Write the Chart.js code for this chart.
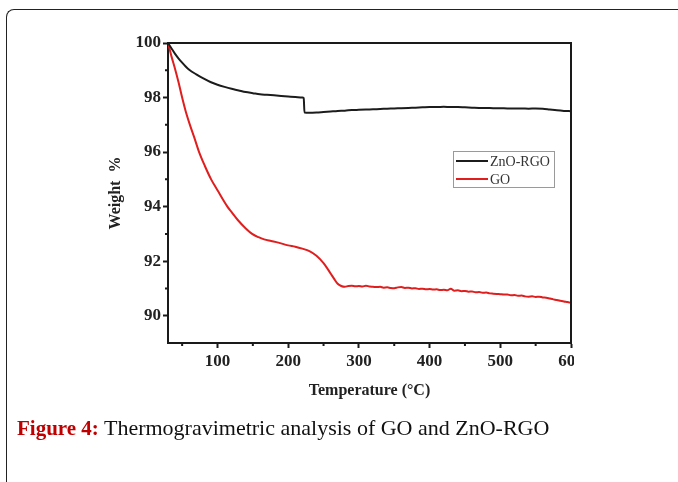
<!DOCTYPE html>
<html>
<head>
<meta charset="utf-8">
<script src="https://cdn.jsdelivr.net/npm/chart.js@4.4.0/dist/chart.umd.min.js"></script>
<style>
html, body { margin: 0; padding: 0; background: #fff; width: 678px; height: 482px; overflow: hidden; }
#frame { position: absolute; left: 6px; top: 9px; width: 700px; height: 500px; border-left: 1.5px solid #222; border-top: 1.5px solid #222; border-top-left-radius: 8px; }
#plot { position: absolute; left: 0; top: 0; width: 574px; height: 420px; overflow: hidden; }
#caption { position: absolute; left: 17px; top: 417px; font-family: "Liberation Serif", serif; font-size: 22px; line-height: 22px; color: #111; white-space: nowrap; }
#caption b { color: #c00000; font-size: 21px; }
</style>
</head>
<body>
<div id="frame"></div>
<div id="plot"><canvas id="tga" width="620" height="420"></canvas></div>
<div id="caption"><b>Figure 4:</b> Thermogravimetric analysis of GO and ZnO-RGO</div>
<script>
// ---- Data ----
const tempZno = [30, 35, 40, 45, 50, 55, 60, 70, 80, 90, 100, 110, 120, 130, 140, 150, 160, 170, 180, 190, 200, 210, 220, 222, 223,
	230, 240, 250, 260, 270, 280, 290, 300, 310, 320, 330, 340, 350, 360, 370, 380, 390, 400, 410, 420, 430, 440, 450,
	460, 470, 480, 490, 500, 510, 520, 530, 540, 550, 560, 570, 580, 590, 600];
const weightZno = [100.0, 99.8, 99.6, 99.43, 99.28, 99.14, 99.02, 98.85, 98.7, 98.57, 98.47, 98.39, 98.32, 98.26, 98.2, 98.16, 98.12, 98.1, 98.08, 98.06, 98.04, 98.02, 98.0, 97.98, 97.45,
	97.44, 97.45, 97.47, 97.49, 97.51, 97.52, 97.54, 97.55, 97.56, 97.57, 97.58, 97.59, 97.6, 97.61, 97.62, 97.63, 97.64, 97.65, 97.65, 97.66, 97.65, 97.65, 97.64,
	97.63, 97.62, 97.62, 97.61, 97.61, 97.6, 97.6, 97.6, 97.59, 97.6, 97.59, 97.56, 97.53, 97.51, 97.5];

const tempGo = [30, 35, 40, 45, 50, 55, 61, 67, 74, 82, 91, 100, 114, 120, 129, 140, 149, 158, 166, 176, 186, 200, 210, 220,
	230, 240, 250, 260, 265, 270, 275, 280, 285, 290, 295, 300, 305, 310, 315, 320, 325, 330, 335, 340, 345, 350, 355, 360,
	365, 370, 375, 380, 385, 390, 395, 400, 405, 410, 415, 420, 425, 430, 435, 440, 445, 450, 455, 460, 465, 470, 475, 480,
	485, 490, 495, 500, 505, 510, 515, 520, 525, 530, 535, 540, 545, 550, 555, 560, 565, 570, 575, 580, 585, 590, 595, 600];
const weightGo = [100.0, 99.5, 99.05, 98.55, 98.0, 97.5, 97.0, 96.55, 96.0, 95.5, 95.0, 94.6, 94.0, 93.8, 93.5, 93.2, 93.0, 92.88, 92.8, 92.74, 92.68, 92.58, 92.53, 92.46,
	92.37, 92.2, 91.93, 91.55, 91.35, 91.17, 91.09, 91.06, 91.09, 91.1, 91.08, 91.09, 91.07, 91.1, 91.07, 91.06, 91.05, 91.06, 91.03, 91.04, 91.02, 91.01, 91.04, 91.05,
	91.02, 91.03, 91.0, 91.01, 90.98, 90.99, 90.97, 90.98, 90.96, 90.97, 90.94, 90.95, 90.93, 90.99, 90.92, 90.93, 90.9, 90.91, 90.88, 90.89, 90.86, 90.87, 90.84, 90.85,
	90.82, 90.81, 90.8, 90.79, 90.78, 90.78, 90.75, 90.76, 90.73, 90.74, 90.71, 90.7, 90.71, 90.69, 90.7, 90.67, 90.66, 90.63, 90.6, 90.58, 90.55, 90.52, 90.5, 90.47];

const xTickValues = [100, 200, 300, 400, 500, 600];
const xMinorValues = [50, 150, 250, 350, 450, 550];
const yTickValues = [90, 92, 94, 96, 98, 100];
const yMinorValues = [91, 93, 95, 97, 99];

const zip = (xs, ys) => xs.map((x, i) => ({ x, y: ys[i] }));

// ---- Plugins ----
const AXIS = "#1a1a1a";

const frameBox = {
	id: "frameBox",
	afterDatasetsDraw(chart) {
		const { ctx, chartArea: a } = chart;
		ctx.save();
		ctx.strokeStyle = AXIS;
		ctx.lineWidth = 2;
		ctx.beginPath();
		ctx.moveTo(a.left, a.top);
		ctx.lineTo(a.right, a.top);
		ctx.lineTo(a.right, a.bottom);
		ctx.stroke();
		ctx.restore();
	},
};

const minorTicks = {
	id: "minorTicks",
	afterDraw(chart) {
		const { ctx, chartArea: a, scales } = chart;
		ctx.save();
		ctx.strokeStyle = AXIS;
		ctx.lineWidth = 2;
		ctx.beginPath();
		for (const v of xMinorValues) {
			const px = scales.x.getPixelForValue(v);
			ctx.moveTo(px, a.bottom);
			ctx.lineTo(px, a.bottom + 3);
		}
		for (const v of yMinorValues) {
			const py = scales.y.getPixelForValue(v);
			ctx.moveTo(a.left, py);
			ctx.lineTo(a.left - 3, py);
		}
		ctx.stroke();
		ctx.restore();
	},
};

const boxLegend = {
	id: "boxLegend",
	afterDraw(chart) {
		const { ctx, chartArea: a } = chart;
		const left = a.right - 118;
		const top = a.top + 108;
		ctx.save();
		ctx.strokeStyle = "#9a9a9a";
		ctx.lineWidth = 1;
		ctx.strokeRect(left + 0.5, top + 0.5, 101, 36);
		ctx.font = "14px 'Liberation Serif'";
		ctx.textBaseline = "middle";
		chart.data.datasets.forEach((ds, i) => {
			const y = top + 10 + i * 18;
			ctx.strokeStyle = ds.borderColor;
			ctx.lineWidth = 2;
			ctx.beginPath();
			ctx.moveTo(left + 3, y);
			ctx.lineTo(left + 35, y);
			ctx.stroke();
			ctx.fillStyle = "#333";
			ctx.fillText(ds.label, left + 37, y + 1);
		});
		ctx.restore();
	},
};

// ---- Chart ----
const tickFont = { family: "Liberation Serif", size: 17, weight: "bold" };
const titleFont = { family: "Liberation Serif", size: 16, weight: "bold" };

new Chart(document.getElementById("tga"), {
	type: "line",
	data: {
		datasets: [
			{ label: "ZnO-RGO", data: zip(tempZno, weightZno), borderColor: "#1c1c1c", borderWidth: 2, cubicInterpolationMode: "monotone" },
			{ label: "GO", data: zip(tempGo, weightGo), borderColor: "#e01e1e", borderWidth: 2, cubicInterpolationMode: "monotone" },
		],
	},
	options: {
		responsive: false,
		animation: false,
		layout: { padding: { left: 106, top: 43, right: 49, bottom: 20 } },
		elements: { point: { radius: 0 } },
		plugins: { legend: { display: false }, tooltip: { enabled: false } },
		scales: {
			x: {
				type: "linear",
				min: 30,
				max: 600,
				afterBuildTicks: (s) => { s.ticks = xTickValues.map((v) => ({ value: v })); },
				afterFit: (s) => { s.height = 57; },
				grid: { display: true, drawOnChartArea: false, drawTicks: true, tickLength: 5, tickWidth: 2, tickColor: AXIS },
				border: { display: true, color: AXIS, width: 2 },
				ticks: { font: tickFont, color: "#222", padding: 3, maxRotation: 0, autoSkip: false },
				title: { display: true, text: "Temperature (°C)", font: titleFont, color: "#222", padding: 0 },
			},
			y: {
				type: "linear",
				min: 89,
				max: 100,
				afterBuildTicks: (s) => { s.ticks = yTickValues.map((v) => ({ value: v })); },
				afterFit: (s) => { s.width = 62; },
				grid: { display: true, drawOnChartArea: false, drawTicks: true, tickLength: 5, tickWidth: 2, tickColor: AXIS },
				border: { display: true, color: AXIS, width: 2 },
				ticks: { font: tickFont, color: "#222", padding: 2, autoSkip: false },
				title: { display: true, text: "Weight  %", font: titleFont, color: "#222", padding: 0 },
			},
		},
	},
	plugins: [frameBox, minorTicks, boxLegend],
});
</script>
</body>
</html>
